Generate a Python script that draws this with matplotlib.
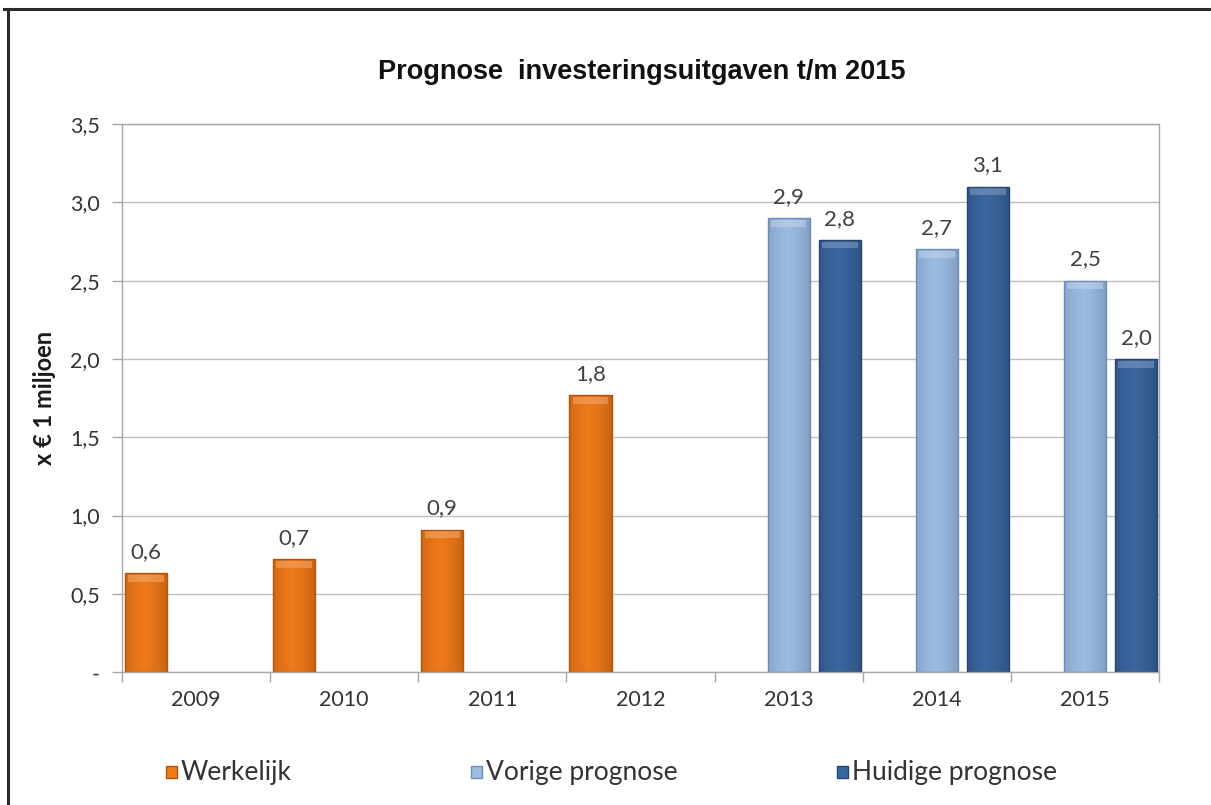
import numpy as np
import matplotlib
matplotlib.use("Agg")
import matplotlib.pyplot as plt
from matplotlib.lines import Line2D
from matplotlib.patches import Rectangle
from matplotlib.colors import to_rgb

# Data (x € 1 miljoen)
years = ["2009", "2010", "2011", "2012", "2013", "2014", "2015"]
werkelijk = [0.63, 0.72, 0.91, 1.77, None, None, None]
vorige_prognose = [None, None, None, None, 2.90, 2.70, 2.50]
huidige_prognose = [None, None, None, None, 2.76, 3.10, 2.00]

series = [
    ("Werkelijk", werkelijk, "#F07A1A", "#B0550E"),
    ("Vorige prognose", vorige_prognose, "#9DBCE2", "#6F8DB3"),
    ("Huidige prognose", huidige_prognose, "#3B67A0", "#28456E"),
]

y_ticks = [0, 0.5, 1.0, 1.5, 2.0, 2.5, 3.0, 3.5]

plt.rcParams["font.family"] = ["Lato", "DejaVu Sans"]

fig = plt.figure(figsize=(12.11, 8.05), dpi=100)
fig.patch.set_facecolor("white")
ax = fig.add_axes([0.1007, 0.165, 0.8564, 0.681])

x = np.arange(len(years))
offsets = [-0.338, 0.0, 0.345]
width = 0.285


def shade(patch, base, edge):
    """Fill a bar with a horizontal light-to-dark gradient and a top bevel."""
    bx, by = patch.get_x(), patch.get_y()
    bw, bh = patch.get_width(), patch.get_height()
    c = np.array(to_rgb(base))
    e = np.array(to_rgb(edge))
    t = np.linspace(0, 1, 64)
    prof = 1 - np.abs(t - 0.45) * 1.6
    prof = np.clip(prof, 0, 1) ** 0.5
    row = e[None, :] * (1 - prof[:, None]) + c[None, :] * prof[:, None]
    img = np.repeat(row[None, :, :], 2, axis=0)
    im = ax.imshow(img, extent=[bx, bx + bw, by, by + bh], aspect="auto",
                   origin="lower", zorder=2, interpolation="bilinear")
    im.set_clip_path(patch)
    # soft bevel on top of the bar
    lite = np.clip(c + (1 - c) * 0.4, 0, 1)
    cap = min(0.055, bh)
    ax.add_patch(Rectangle((bx + bw * 0.08, by + bh - cap), bw * 0.84, cap * 0.8,
                           facecolor=lite, edgecolor="none", alpha=0.5, zorder=3))


for (name, vals, col, edge), off in zip(series, offsets):
    xs = [xi + off for xi, v in zip(x, vals) if v is not None]
    hs = [v for v in vals if v is not None]
    bars = ax.bar(xs, hs, width=width, color=col, edgecolor=edge, linewidth=1.0,
                  zorder=2, label=name)
    for b, v in zip(bars, hs):
        shade(b, col, edge)
        b.set_facecolor("none")
        b.set_zorder(4)
        ax.annotate(f"{v:.1f}".replace(".", ","),
                    (b.get_x() + b.get_width() / 2, v),
                    xytext=(0, 8), textcoords="offset points",
                    ha="center", va="bottom", fontsize=16, color="#404040",
                    zorder=5)

ax.set_xlim(-0.5, len(years) - 0.5)
ax.set_ylim(0, 3.5)

ax.set_yticks(y_ticks)
ax.set_yticklabels(["-"] + [f"{t:.1f}".replace(".", ",") for t in y_ticks[1:]])
ax.set_xticks(x)
ax.set_xticklabels(years)
ax.set_xticks(np.arange(-0.5, len(years)), minor=True)

ax.tick_params(axis="y", which="major", length=7, width=1, color="#A6A6A6",
               labelsize=15.5, labelcolor="#333333", pad=9)
ax.tick_params(axis="x", which="major", length=0, labelsize=15.5,
               labelcolor="#333333", pad=13)
ax.tick_params(axis="x", which="minor", length=7, width=1, color="#A6A6A6")

ax.grid(axis="y", color="#BDBDBD", linewidth=1.0, zorder=0)
ax.set_axisbelow(True)
for side in ["left", "bottom", "right", "top"]:
    ax.spines[side].set_color("#A6A6A6")
    ax.spines[side].set_linewidth(1.0)

ax.set_ylabel("x € 1 miljoen", fontsize=17, fontweight="bold", color="#1a1a1a")
ax.yaxis.set_label_coords(-0.064, 0.5)

fig.text(0.530, 0.910, "Prognose  investeringsuitgaven t/m 2015",
         family="Liberation Sans", fontsize=19.5, fontweight="bold",
         ha="center", va="center", color="#111111")

# Legend entries: square swatch followed by the series name
legend_x = [166, 471, 837]
legend_y = 772
W, H = 1211.0, 805.0
for (name, _, col, edge), lx in zip(series, legend_x):
    fig.add_artist(Rectangle((lx / W, (H - legend_y - 6) / H), 11 / W, 12 / H,
                             transform=fig.transFigure, facecolor=col,
                             edgecolor=edge, linewidth=1))
    fig.text((lx + 15) / W, (H - legend_y) / H, name, fontsize=19,
             color="#333333", ha="left", va="center")

# Outer frame (top and left edges)
fig.add_artist(Line2D([0.003, 1.0], [0.989, 0.989], transform=fig.transFigure,
                      color="#2a2a2a", linewidth=2.2))
fig.add_artist(Line2D([0.0066, 0.0066], [0.0, 0.989], transform=fig.transFigure,
                      color="#2a2a2a", linewidth=2.2))

fig.savefig("out.png", dpi=100, facecolor="white")
